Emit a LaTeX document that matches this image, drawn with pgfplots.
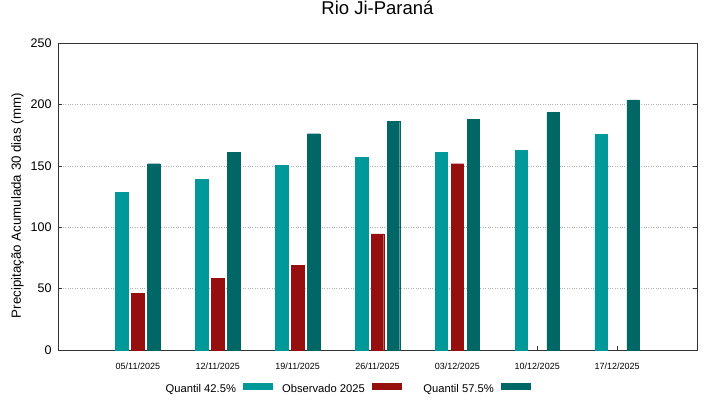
\documentclass[border=0pt]{standalone}
\usepackage{pgfplots}
\pgfplotsset{compat=1.18}
\usepackage{fontspec}
\setmainfont{Liberation Sans}
\definecolor{qa}{RGB}{0,152,152}
\definecolor{obs}{RGB}{150,14,14}
\definecolor{qb}{RGB}{0,102,102}
\begin{document}
\begin{tikzpicture}
\path[use as bounding box] (-58pt,-49pt) rectangle (661pt,350pt);
\begin{axis}[
  at={(0pt,0pt)}, anchor=south west,
  scale only axis, width=639pt, height=307pt,
  xmin=-1, xmax=7, ymin=0, ymax=250,
  ytick={0,50,...,250},
  xtick={0,...,6},
  xticklabels={05/11/2025,12/11/2025,19/11/2025,26/11/2025,03/12/2025,10/12/2025,17/12/2025},
  ybar, bar width=0.156,
  ymajorgrids, grid style={dash pattern=on 0.8pt off 1.6pt, gray!60, line width=0.6pt},
  xtick pos=lower, ytick pos=both, tick align=inside, major tick length=4pt,
  tick style={black!80, line width=0.6pt},
  axis line style={black!80, line width=0.8pt},
  /pgf/number format/assume math mode=true,
  yticklabel style={font=\fontsize{12.5}{14}\selectfont, xshift=-3pt},
  xticklabel style={font=\fontsize{9}{10}\selectfont, yshift=-9pt},
  ylabel={Precipitação Acumulada 30 dias (mm)},
  ylabel style={font=\fontsize{13.3}{15}\selectfont, at={(axis description cs:-0.0634,0.47)}, anchor=center},
  title={Rio Ji-Paraná},
  title style={font=\fontsize{18.5}{21}\selectfont, at={(axis description cs:0.5,1.0717)}, anchor=base},
  legend columns=3,
  legend plot pos=right,
  legend style={at={(axis description cs:0.1338,-0.1238)}, anchor=west, draw=none, fill=none,
    inner sep=0pt, outer sep=0pt, nodes={inner sep=0pt, font=\fontsize{11.2}{13}\selectfont},
    /tikz/every odd column/.append style={column sep=7pt}},
]
\addplot+[bar shift=-0.2, fill=qa, draw=qa, legend image code/.code={\fill[qa] (0pt,0pt) rectangle (29pt,6pt);}]
  coordinates {(0,128.4) (1,138.7) (2,150.4) (3,156.9) (4,161.0) (5,162.6) (6,175.6)};
\addlegendentry{\makebox[92.5pt][r]{Quantil 42.5\%}}
\addplot+[bar shift=0, fill=obs, draw=obs, legend image code/.code={\fill[obs] (0pt,0pt) rectangle (29pt,6pt);}]
  coordinates {(0,46.0) (1,58.1) (2,69.2) (3,94.5) (4,151.7)};
\addlegendentry{\makebox[92.5pt][r]{Observado 2025}}
\addplot+[bar shift=0.2, fill=qb, draw=qb, legend image code/.code={\fill[qb] (0pt,0pt) rectangle (29pt,6pt);}]
  coordinates {(0,151.7) (1,161.2) (2,176.1) (3,186.2) (4,188.1) (5,193.3) (6,203.6)};
\addlegendentry{\makebox[92.5pt][r]{Quantil 57.5\%}}
\end{axis}
\end{tikzpicture}
\end{document}
